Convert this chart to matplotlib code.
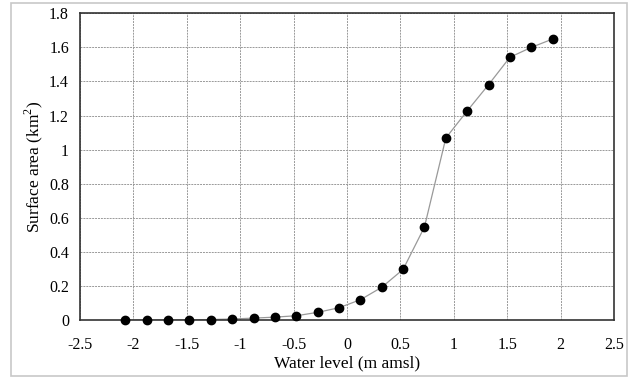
import matplotlib
matplotlib.use("Agg")
import matplotlib.pyplot as plt
from matplotlib.patches import Rectangle

plt.rcParams['font.family'] = ['Liberation Serif', 'DejaVu Serif']
plt.rcParams['mathtext.fontset'] = 'custom'
plt.rcParams['mathtext.rm'] = 'Liberation Serif'
plt.rcParams['axes.unicode_minus'] = False

# Data
water_level = [-2.075, -1.875, -1.675, -1.475, -1.275, -1.075, -0.875, -0.675,
               -0.475, -0.275, -0.075, 0.125, 0.325, 0.525, 0.725, 0.925,
               1.125, 1.325, 1.525, 1.725, 1.925]
surface_area = [0.0, 0.0, 0.0, 0.001, 0.003, 0.006, 0.011, 0.017,
                0.025, 0.045, 0.072, 0.119, 0.192, 0.297, 0.546, 1.068,
                1.227, 1.381, 1.542, 1.600, 1.649]
x_ticks = [-2.5, -2, -1.5, -1, -0.5, 0, 0.5, 1, 1.5, 2, 2.5]
y_ticks = [0, 0.2, 0.4, 0.6, 0.8, 1.0, 1.2, 1.4, 1.6, 1.8]

fig = plt.figure(figsize=(6.35, 3.78), dpi=100)
# light outer border of the picture
fig.patches.append(Rectangle((11 / 635, 2 / 378), 616 / 635, 373 / 378,
                             transform=fig.transFigure, fill=False,
                             edgecolor='#c8c8c8', linewidth=1.2))

ax = fig.add_axes([0.126, 0.1534, 0.841, 0.8114])
ax.plot(water_level, surface_area, color='#999999', linewidth=0.9, zorder=2)
ax.scatter(water_level, surface_area, s=36, color='black', zorder=3,
           clip_on=False)

ax.set_xlim(-2.5, 2.5)
ax.set_ylim(0, 1.8)
ax.set_xticks(x_ticks)
ax.set_yticks(y_ticks)
ax.set_xticklabels(['%g' % v for v in x_ticks])
ax.set_yticklabels(['%g' % v for v in y_ticks])
ax.tick_params(length=0, labelsize=11.5)
ax.tick_params(axis='x', pad=12)
ax.tick_params(axis='y', pad=8)
ax.grid(True, color='#999999', linestyle=(0, (2, 1)), linewidth=0.7)
ax.set_axisbelow(True)
for s in ax.spines.values():
    s.set_color('#333333')
    s.set_linewidth(1.2)

ax.set_xlabel('Water level (m amsl)', fontsize=12.5, labelpad=2)
ax.set_ylabel('Surface area (km$^2$)', fontsize=12.5, labelpad=3)

fig.savefig('out.png', dpi=100)
